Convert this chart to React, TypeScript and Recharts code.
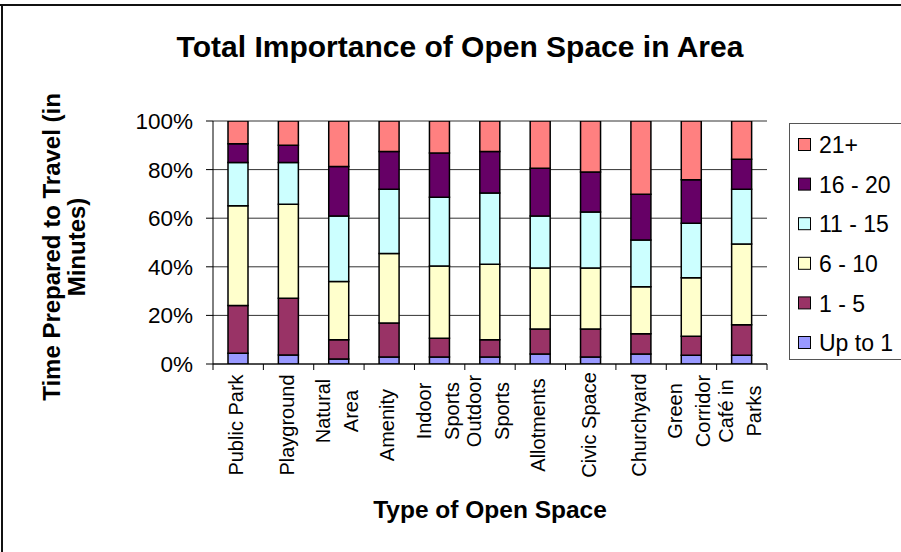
import { BarChart, Bar, XAxis, YAxis, CartesianGrid } from 'recharts';

const FONT = '"Liberation Sans", Arial, Helvetica, sans-serif';

const CATEGORIES = [
  'Public Park', 'Playground', 'Natural Area', 'Amenity', 'Indoor Sports', 'Outdoor Sports',
  'Allotments', 'Civic Space', 'Churchyard', 'Green Corridor', 'Café in Parks',
];
// how Excel wrapped the category labels
const TICK_LINES = [
  ['Public Park'], ['Playground'], ['Natural', 'Area'], ['Amenity'], ['Indoor', 'Sports'],
  ['Outdoor', 'Sports'], ['Allotments'], ['Civic Space'], ['Churchyard'], ['Green', 'Corridor'],
  ['Café in', 'Parks'],
];
const Y_TICKS = [0, 20, 40, 60, 80, 100];

// percentages
const UP_TO_1 = [4.4, 3.7, 2.1, 2.9, 2.9, 2.9, 4.1, 2.9, 4.1, 3.6, 3.6];
const ONE_TO_5 = [19.7, 23.4, 7.9, 14.0, 7.7, 7.1, 10.3, 11.5, 8.3, 7.8, 12.6];
const SIX_TO_10 = [41.0, 38.6, 24.0, 28.6, 29.7, 31.0, 25.1, 25.1, 19.4, 24.1, 33.2];
const ELEVEN_TO_15 = [17.8, 17.2, 26.9, 26.4, 28.3, 29.4, 21.4, 23.1, 19.2, 22.4, 22.5];
const SIXTEEN_TO_20 = [7.7, 7.1, 20.4, 15.6, 18.2, 17.1, 19.7, 16.4, 18.9, 17.9, 12.4];
const OVER_21 = [9.4, 10.0, 18.7, 12.5, 13.2, 12.5, 19.4, 21.0, 30.1, 24.2, 15.7];

const SERIES = [
  { key: 'upTo1', name: 'Up to 1', color: '#9999FF', values: UP_TO_1 },
  { key: 'oneTo5', name: '1 - 5', color: '#993366', values: ONE_TO_5 },
  { key: 'sixTo10', name: '6 - 10', color: '#FFFFCC', values: SIX_TO_10 },
  { key: 'elevenTo15', name: '11 - 15', color: '#CCFFFF', values: ELEVEN_TO_15 },
  { key: 'sixteenTo20', name: '16 - 20', color: '#660066', values: SIXTEEN_TO_20 },
  { key: 'over21', name: '21+', color: '#FF8080', values: OVER_21 },
];

const data = CATEGORIES.map((name, i) => {
  const row: any = { name };
  SERIES.forEach((s) => (row[s.key] = s.values[i]));
  return row;
});

const W = 901;
const H = 552;
const PLOT_LEFT = 213;
const PLOT_RIGHT = 767;
const PLOT_TOP = 121;
const PLOT_BOTTOM = 364;
const Y_AXIS_W = 80;
const X_AXIS_H = 120;
const STEP = (PLOT_RIGHT - PLOT_LEFT) / CATEGORIES.length;

const XTick = (props: any) => {
  const { x, y, index } = props;
  const lines = TICK_LINES[index] || [props.payload.value];
  const n = lines.length;
  const cy = y + (n === 1 ? 61 : 47);
  return (
    <g>
      <line x1={x - STEP / 2} x2={x - STEP / 2} y1={y} y2={y + 6} stroke="#000" />
      {index === CATEGORIES.length - 1 && (
        <line x1={x + STEP / 2} x2={x + STEP / 2} y1={y} y2={y + 6} stroke="#000" />
      )}
      {lines.map((line: string, i: number) => {
        const bx = x + 5 + (i - (n - 1) / 2) * 28;
        return (
          <text
            key={i}
            x={bx}
            y={cy}
            transform={`rotate(-90 ${bx} ${cy})`}
            textAnchor="middle"
            fontSize={20}
            fontFamily={FONT}
            fill="#000"
          >
            {line}
          </text>
        );
      })}
    </g>
  );
};

export default function App() {
  const legendItems = [...SERIES].reverse();
  return (
    <div style={{ position: 'absolute', left: 0, top: 0, width: W, height: H, background: '#fff', overflow: 'hidden' }}>
      <BarChart
        width={W}
        height={H}
        data={data}
        margin={{ top: PLOT_TOP, right: W - PLOT_RIGHT, bottom: H - PLOT_BOTTOM - X_AXIS_H, left: PLOT_LEFT - Y_AXIS_W }}
        barSize={20}
      >
        <CartesianGrid vertical={false} stroke="#333" />
        <XAxis
          dataKey="name"
          interval={0}
          height={X_AXIS_H}
          tickLine={false}
          tickSize={0}
          tickMargin={0}
          axisLine={{ stroke: '#000' }}
          tick={<XTick />}
        />
        <YAxis
          domain={[0, 100]}
          allowDataOverflow
          ticks={Y_TICKS}
          interval={0}
          width={Y_AXIS_W}
          tickFormatter={(v: number) => `${v}%`}
          tickSize={7}
          tickMargin={13}
          axisLine={{ stroke: '#000' }}
          tickLine={{ stroke: '#000' }}
          tick={{ fill: '#000', fontSize: 22.5, fontFamily: FONT }}
        />
        <YAxis
          yAxisId="frame"
          orientation="right"
          width={0}
          tick={false}
          tickLine={false}
          axisLine={{ stroke: '#808080' }}
        />
        {SERIES.map((s) => (
          <Bar
            key={s.key}
            dataKey={s.key}
            name={s.name}
            stackId="a"
            fill={s.color}
            stroke="#000"
            strokeWidth={1.5}
            isAnimationActive={false}
          />
        ))}
      </BarChart>
      <svg width={W} height={H} style={{ position: 'absolute', left: 0, top: 0, pointerEvents: 'none' }}>
        <line x1={0} x2={W} y1={5} y2={5} stroke="#111" strokeWidth={2} />
        <line x1={2} x2={2} y1={5} y2={H} stroke="#111" strokeWidth={2} />
        <text x={460} y={57} textAnchor="middle" fontSize={30} fontWeight="bold" fontFamily={FONT}>
          Total Importance of Open Space in Area
        </text>
        <text x={490} y={518} textAnchor="middle" fontSize={24.5} fontWeight="bold" fontFamily={FONT}>
          Type of Open Space
        </text>
        <g transform="rotate(-90 0 0)">
          <text x={-247} y={60} textAnchor="middle" fontSize={24} fontWeight="bold" fontFamily={FONT}>
            Time Prepared to Travel (in
          </text>
          <text x={-247} y={85} textAnchor="middle" fontSize={24} fontWeight="bold" fontFamily={FONT}>
            Minutes)
          </text>
        </g>
        <rect x={789.5} y={123.5} width={120} height={236} fill="#fff" stroke="#555" />
        {legendItems.map((s, i) => {
          const cy = 145 + i * 39.6;
          return (
            <g key={s.key}>
              <rect x={798.5} y={cy - 6.5} width={12} height={12} fill={s.color} stroke="#000" />
              <text x={819} y={cy} dy="0.36em" fontSize={23} fontFamily={FONT} fill="#000">
                {s.name}
              </text>
            </g>
          );
        })}
      </svg>
    </div>
  );
}
